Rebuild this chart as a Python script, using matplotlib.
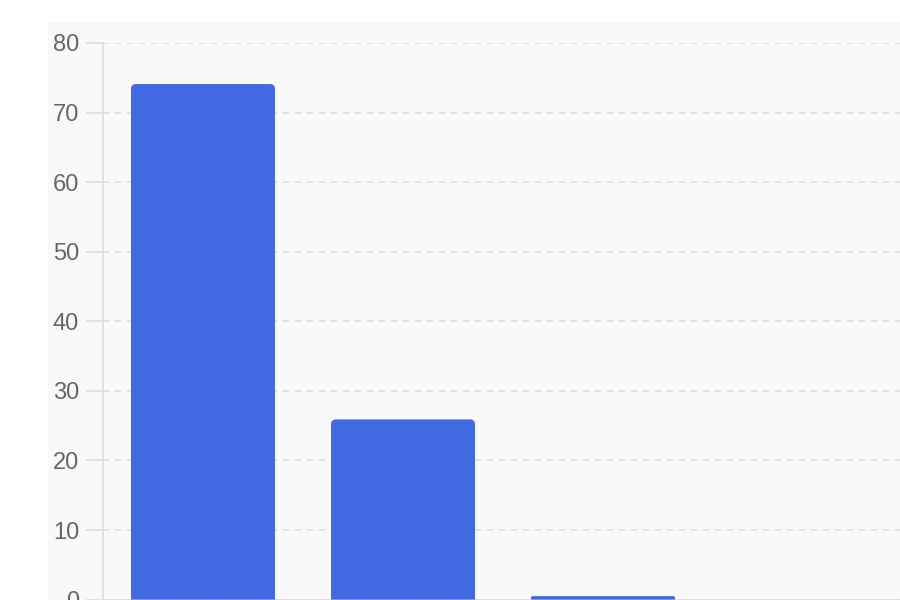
import matplotlib
matplotlib.use('Agg')
import matplotlib.pyplot as plt
from matplotlib.path import Path
from matplotlib.patches import PathPatch, Rectangle

# Data (category labels are cut off in the reference)
categories = ['A', 'B', 'C']
values = [74.1, 25.9, 0.5]
yticks = [0, 10, 20, 30, 40, 50, 60, 70, 80]

BAR_COLOR = '#4169E1'

fig = plt.figure(figsize=(9, 6), dpi=100)
fig.patch.set_facecolor('white')
# light panel behind the chart
fig.patches.append(Rectangle((48 / 900, 0), 1, (600 - 22) / 600,
                             transform=fig.transFigure, facecolor='#f9f9f9',
                             edgecolor='none', zorder=-10))

ax = fig.add_axes([103 / 900, 0.4 / 600, 800 / 900, 556.6 / 600])
ax.set_facecolor('none')
ax.set_xlim(-0.5, 3.5)
ax.set_ylim(0, 80)

# pixels per data unit, used for the corner rounding
px_x = 800 / 4
px_y = 556.6 / 80


def rounded_top_bar(x, h, width, r_px=5):
    r_px = min(r_px, h * px_y / 2, width * px_x / 2)
    rx, ry = r_px / px_x, r_px / px_y
    x0, x1 = x - width / 2, x + width / 2
    verts = [(x0, 0), (x0, h - ry), (x0, h), (x0 + rx, h),
             (x1 - rx, h), (x1, h), (x1, h - ry), (x1, 0), (x0, 0)]
    codes = [Path.MOVETO, Path.LINETO, Path.CURVE3, Path.CURVE3,
             Path.LINETO, Path.CURVE3, Path.CURVE3, Path.LINETO, Path.CLOSEPOLY]
    return PathPatch(Path(verts, codes), facecolor=BAR_COLOR, edgecolor='none', zorder=3)


for i, v in enumerate(values):
    ax.add_patch(rounded_top_bar(i, v, 0.72))

ax.set_yticks(yticks)
ax.set_yticklabels([str(t) for t in yticks], fontsize=17,
                   color='#666666', family='Liberation Sans')
ax.set_xticks([])
# sizes in points: 12.2pt ~ 17px, 5pt ~ 7px
ax.tick_params(axis='y', length=12.2, width=1.2, color='#dddddd', pad=5)
ax.yaxis.grid(True, color='#dddddd', linestyle=(0, (3.6, 3.6)), linewidth=1.2)
ax.set_axisbelow(True)

for side in ['top', 'right']:
    ax.spines[side].set_visible(False)
ax.spines['left'].set_color('#dddddd')
ax.spines['left'].set_linewidth(1.2)
ax.spines['bottom'].set_color('#dddddd')
ax.spines['bottom'].set_linewidth(1.2)

fig.savefig('out.png', dpi=100)
